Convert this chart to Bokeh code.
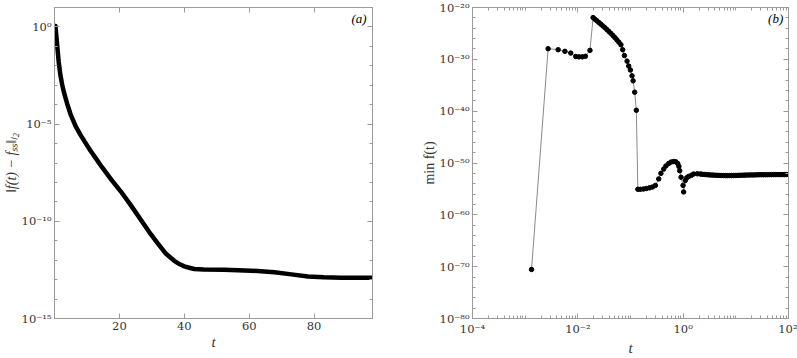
import numpy as np
from bokeh.plotting import figure
from bokeh.layouts import row
from bokeh.models import (FixedTicker, LogAxis, LinearAxis, CustomJSTickFormatter,
                          Label, Range1d, ColumnDataSource)
from bokeh.embed import file_html
from bokeh.resources import INLINE

# ---------------- data: panel (a) ----------------
t_a = [0.3, 0.8, 1.3, 1.8, 2.4, 3.0, 3.9, 4.95, 6.5, 8.0, 9.5, 11.1, 12.9, 14.7, 17.5,
       20.4, 23.5, 26.6, 29.2, 31.7, 34.3, 36.9, 38.5, 40.0, 41.5, 43.1, 46.0, 52.3,
       60.6, 67.8, 73.0, 78.1, 83.0, 88.4, 98.0]
err_a = [1.12, 1.26e-1, 1.58e-2, 3.5e-3, 1.0e-3, 3.8e-4, 1.12e-4, 3.2e-5, 7.9e-6, 2.8e-6,
         1.12e-6, 4.3e-7, 1.58e-7, 5.9e-8, 1.41e-8, 3.5e-9, 6.8e-10, 1.2e-10, 2.8e-11,
         7.8e-12, 2.2e-12, 9.3e-13, 6.3e-13, 4.8e-13, 4.1e-13, 3.5e-13, 3.3e-13, 3.2e-13,
         2.9e-13, 2.4e-13, 1.86e-13, 1.45e-13, 1.32e-13, 1.26e-13, 1.26e-13]

# ---------------- data: panel (b) ----------------
t_b = [1.32e-3, 2.73e-3, 4.23e-3, 5.69e-3, 7.33e-3, 9.12e-3, 1.05e-2, 1.21e-2, 1.39e-2,
       1.70e-2, 1.95e-2,
       2.11e-2, 2.30e-2, 2.51e-2, 2.74e-2, 2.99e-2, 3.27e-2, 3.56e-2, 3.89e-2, 4.25e-2,
       4.63e-2, 5.06e-2, 5.52e-2, 6.03e-2, 6.58e-2,
       7.11e-2, 7.66e-2, 8.61e-2, 9.25e-2, 9.95e-2, 1.07e-1, 1.12e-1, 1.20e-1, 1.29e-1,
       1.38e-1, 1.54e-1, 1.76e-1, 2.00e-1, 2.29e-1, 2.61e-1, 2.97e-1, 3.43e-1, 3.78e-1,
       4.27e-1, 4.70e-1, 5.31e-1, 5.92e-1, 6.61e-1, 7.26e-1, 7.87e-1, 8.30e-1, 8.59e-1,
       9.12e-1, 9.95e-1, 1.02, 1.10, 1.17, 1.27, 1.43, 1.58, 1.86, 2.12,
       2.29, 2.51, 2.75, 3.02, 3.31, 3.63, 3.98, 4.37, 4.79, 5.25, 5.75, 6.31, 6.92, 7.59,
       8.32, 9.12, 10.0, 11.0, 12.0, 13.2, 14.5, 15.8, 17.4, 19.1, 20.9, 22.9, 25.1, 27.5,
       30.2, 33.1, 36.3, 39.8, 43.7, 47.9, 52.5, 57.5, 63.1, 69.2, 75.9, 83.2, 91.2, 100.0]
fmin_b = [2.9e-71, 1.12e-28, 7.2e-29, 3.5e-29, 1.6e-29, 3.5e-30, 3.0e-30, 3.0e-30, 3.9e-30,
          5.4e-29, 1.12e-22,
          5.6e-23, 2.7e-23, 1.26e-23, 6.0e-24, 2.75e-24, 1.26e-24, 5.5e-25, 2.4e-25, 1.0e-25,
          4.1e-26, 1.55e-26, 5.6e-27, 2.0e-27, 6.5e-28,
          7.2e-29, 5.4e-30, 4.5e-31, 5.0e-32, 8.7e-33, 6.5e-34, 7.2e-35, 4.6e-37, 1.5e-40,
          8.5e-56, 8.5e-56, 9.5e-56, 1.2e-55, 1.6e-55, 2.3e-55, 4.8e-55, 8.5e-54, 1.0e-52,
          6.6e-52, 2.7e-51, 7.9e-51, 1.55e-50, 1.9e-50, 1.7e-50, 7.9e-51, 2.2e-51, 3.3e-52,
          1.8e-53, 4.8e-55, 2.6e-56, 4.3e-54, 1.45e-53, 2.5e-53, 4.3e-53, 7.6e-53, 8.3e-53,
          7.6e-53,
          6.8e-53, 6.3e-53, 5.8e-53, 5.2e-53, 4.9e-53, 4.7e-53, 4.4e-53, 4.2e-53, 4.0e-53,
          3.9e-53, 3.8e-53, 3.7e-53, 3.7e-53, 3.7e-53, 3.8e-53, 3.9e-53, 4.0e-53, 4.1e-53,
          4.3e-53, 4.4e-53, 4.5e-53, 4.7e-53, 4.8e-53, 4.9e-53, 5.0e-53, 5.1e-53, 5.2e-53,
          5.4e-53, 5.5e-53, 5.5e-53, 5.6e-53, 5.6e-53, 5.7e-53, 5.7e-53, 5.8e-53, 5.8e-53,
          5.8e-53, 5.8e-53, 5.8e-53, 5.8e-53, 5.8e-53, 5.8e-53]

# ---------------- ticks ----------------
a_xticks = [20, 40, 60, 80]
a_yticks = [1e-15, 1e-10, 1e-5, 1e0]
a_yminor = [10.0 ** k for k in range(-15, 2)]
b_xticks = [1e-4, 1e-2, 1e0, 1e2]
b_xminor = [m * 10.0 ** k for k in range(-4, 2) for m in range(1, 10)] + [1e2]
# panel (b) y axis is drawn in decades (exponent of 10), because BokehJS cannot
# represent values below ~1e-38 on its log scale
b_ydecades = list(range(-80, -19, 10))
b_ydecades_minor = list(range(-80, -19, 2))

TICK_FONT = "DejaVu Serif"
FONT = "Liberation Serif"
FRAME = "#9a9a9a"
TXT = "#333333"

SUP = """
const s = {'-':'\\u207b','0':'\\u2070','1':'\\u00b9','2':'\\u00b2','3':'\\u00b3','4':'\\u2074',
           '5':'\\u2075','6':'\\u2076','7':'\\u2077','8':'\\u2078','9':'\\u2079'};
"""
log_fmt = CustomJSTickFormatter(code=SUP + """
const e = Math.round(Math.log10(tick));
return '10' + String(e).split('').map(c => s[c]).join('');
""")
dec_fmt = CustomJSTickFormatter(code=SUP + """
const e = Math.round(tick);
return '10' + String(e).split('').map(c => s[c]).join('');
""")
blank_fmt = CustomJSTickFormatter(code="return '';")
t_fmt = CustomJSTickFormatter(code="return 't';")


def style_axis(ax, ticker, labels=True, fmt=None):
    ax.ticker = ticker
    if fmt is not None:
        ax.formatter = fmt
    ax.axis_line_color = FRAME
    ax.major_tick_line_color = FRAME
    ax.minor_tick_line_color = FRAME
    ax.major_tick_in = 5
    ax.major_tick_out = 0
    ax.minor_tick_in = 3
    ax.minor_tick_out = 0
    ax.major_label_text_font = TICK_FONT
    ax.major_label_text_color = TXT
    ax.axis_label_text_font = FONT
    ax.axis_label_text_color = TXT
    ax.axis_label_text_font_size = "14px"
    ax.axis_label_standoff = 0
    if labels:
        ax.major_label_text_font_size = "11.5px"
        ax.major_label_standoff = 3
    else:
        ax.formatter = blank_fmt
        ax.major_label_text_font_size = "1px"
        ax.major_label_standoff = 0


def t_axis(ax, center):
    # x-axis title "t", drawn as the single label of a bare axis under the tick labels
    ax.ticker = FixedTicker(ticks=[center], minor_ticks=[])
    ax.formatter = t_fmt
    ax.axis_line_color = None
    ax.major_tick_line_color = None
    ax.minor_tick_line_color = None
    ax.major_tick_in = 0
    ax.major_tick_out = 0
    ax.major_label_standoff = 1
    ax.major_label_text_font = FONT
    ax.major_label_text_font_style = "italic"
    ax.major_label_text_font_size = "15px"
    ax.major_label_text_color = TXT


def base_fig(width, xr, yr, xtype, ytype, bl, br):
    p = figure(width=width, height=358, x_range=xr, y_range=yr, x_axis_type=xtype,
               y_axis_type=ytype, output_backend="svg", toolbar_location=None,
               min_border_left=bl, min_border_right=br, min_border_top=7,
               min_border_bottom=30)
    p.xgrid.visible = False
    p.ygrid.visible = False
    p.outline_line_color = FRAME
    p.outline_line_width = 1
    p.background_fill_color = "white"
    p.border_fill_color = "white"
    return p


# ---------------- panel (a) ----------------
pa = base_fig(380, Range1d(0, 98), Range1d(1e-15, 10), "linear", "log", 54, 8)
style_axis(pa.xaxis[0], FixedTicker(ticks=a_xticks))
style_axis(pa.yaxis[0], FixedTicker(ticks=a_yticks, minor_ticks=a_yminor), fmt=log_fmt)
pa.yaxis[0].axis_label = "\u2016f(t) \u2212 f\u209b\u209b\u2016\u2097\u2082"
pa.yaxis[0].axis_label_text_font_style = "italic"
top_a = LinearAxis()
style_axis(top_a, FixedTicker(ticks=a_xticks), labels=False)
pa.add_layout(top_a, "above")
right_a = LogAxis()
style_axis(right_a, FixedTicker(ticks=a_yticks, minor_ticks=a_yminor), labels=False)
pa.add_layout(right_a, "right")
tax_a = LinearAxis()
t_axis(tax_a, 49)
pa.add_layout(tax_a, "below")

src_a = ColumnDataSource(dict(t=t_a, e=err_a))
pa.line("t", "e", source=src_a, line_color="black", line_width=4.5, line_cap="round",
        line_join="round")
pa.add_layout(Label(x=96.2, y=10 ** 0.43, text="(a)", text_align="right",
                    text_baseline="middle", text_font=FONT, text_font_style="italic",
                    text_font_size="13px", text_color="black"))

# ---------------- panel (b) ----------------
pb = base_fig(417, Range1d(1e-4, 1e2), Range1d(-80, -20), "log", "linear", 92, 9)
style_axis(pb.xaxis[0], FixedTicker(ticks=b_xticks, minor_ticks=b_xminor), fmt=log_fmt)
style_axis(pb.yaxis[0], FixedTicker(ticks=b_ydecades, minor_ticks=b_ydecades_minor),
           fmt=dec_fmt)
pb.yaxis[0].axis_label = "min f(t)"
pb.yaxis[0].axis_label_text_font_style = "normal"
top_b = LogAxis()
style_axis(top_b, FixedTicker(ticks=b_xticks, minor_ticks=b_xminor), labels=False)
pb.add_layout(top_b, "above")
right_b = LinearAxis()
style_axis(right_b, FixedTicker(ticks=b_ydecades, minor_ticks=b_ydecades_minor),
           labels=False)
pb.add_layout(right_b, "right")
tax_b = LogAxis()
t_axis(tax_b, 0.1)
pb.add_layout(tax_b, "below")

src_b = ColumnDataSource(dict(t=t_b, f=np.log10(np.array(fmin_b))))
pb.line("t", "f", source=src_b, line_color="#8a8a8a", line_width=1)
pb.scatter("t", "f", source=src_b, size=4.5, marker="circle", fill_color="black",
           line_color="black")
pb.add_layout(Label(x=10 ** 1.9, y=-22.1, text="(b)", text_align="right",
                    text_baseline="middle", text_font=FONT, text_font_style="italic",
                    text_font_size="13px", text_color="black"))

layout = row(pa, pb)
open("out.html", "w").write(file_html(layout, INLINE))
